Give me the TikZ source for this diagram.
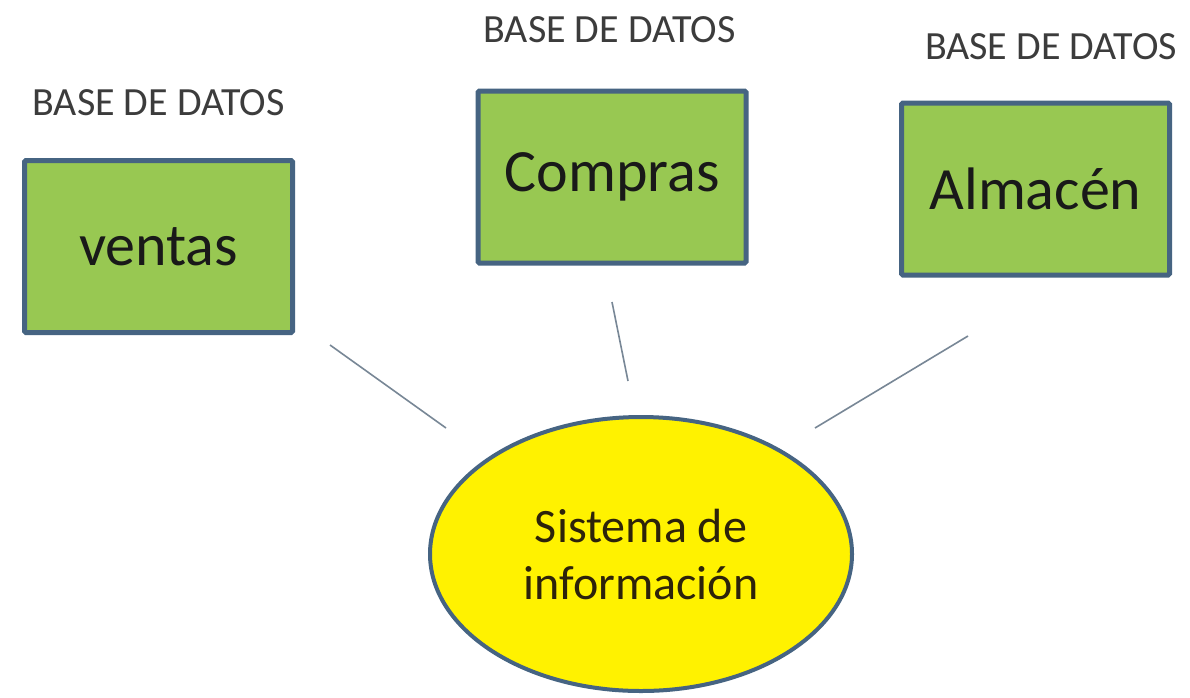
\documentclass[tikz,border=0pt]{standalone}
\usepackage{fontspec}
\setmainfont{Carlito}
\usetikzlibrary{shapes.geometric}
\definecolor{boxgreen}{RGB}{152,200,82}
\definecolor{boxedge}{RGB}{70,100,130}
\definecolor{ellyellow}{RGB}{255,242,0}
\definecolor{linegray}{RGB}{120,135,150}
\definecolor{labelgray}{RGB}{60,60,60}
\definecolor{elltext}{RGB}{45,35,10}
\begin{document}
\begin{tikzpicture}[x=1pt,y=-1pt,
  dbbox/.style={draw=boxedge,fill=boxgreen,line width=5pt,rounded corners=1.5pt,
    minimum width=268pt,minimum height=172pt,inner sep=0pt,
    font=\fontsize{60}{66}\selectfont,text=black!90},
  dblabel/.style={font=\fontsize{40}{44}\selectfont,text=labelgray,inner sep=0pt},
  sisnode/.style={ellipse,draw=boxedge,fill=ellyellow,line width=4pt,
    minimum width=422pt,minimum height=274pt,inner sep=0pt,
    align=center,font=\fontsize{48}{57}\selectfont,text=elltext},
  link/.style={draw=linegray,line width=1.6pt}]
\useasboundingbox (0,0) rectangle (1190,697);
\fill[white] (0,0) rectangle (1190,697);

\node[dbbox] (ventas) at (158.5,246.5) {ventas};
\node[dbbox] (compras) at (612,177) {Compras};
\node[dbbox] (almacen) at (1035.5,189) {Almacén};

\node[dblabel] (lv) at (158.5,103) {BASE DE DATOS};
\node[dblabel] (lc) at (609.5,30) {BASE DE DATOS};
\node[dblabel] (la) at (1051,47) {BASE DE DATOS};

\node[sisnode] (sis) at (641,554) {Sistema de\\información};

\coordinate (v1) at (330,345);
\coordinate (v2) at (446,428);
\coordinate (c1) at (612,302);
\coordinate (c2) at (628,381);
\coordinate (a1) at (968,336);
\coordinate (a2) at (815,428);
\draw[link] (v1) -- (v2);
\draw[link] (c1) -- (c2);
\draw[link] (a1) -- (a2);
\end{tikzpicture}
\end{document}
